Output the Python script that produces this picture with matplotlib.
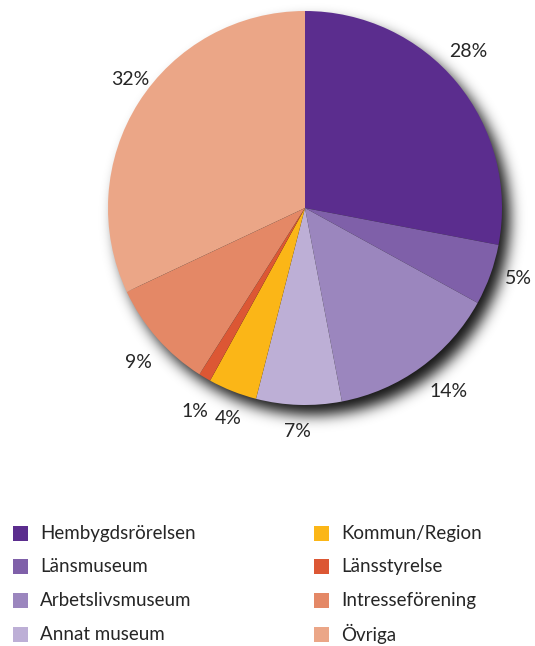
import numpy as np
import matplotlib.pyplot as plt
from matplotlib.patches import Rectangle

# Share of respondents per organisation type (%)
categories = ["Hembygdsrörelsen", "Länsmuseum", "Arbetslivsmuseum", "Annat museum",
              "Kommun/Region", "Länsstyrelse", "Intresseförening", "Övriga"]
shares = [28, 5, 14, 7, 4, 1, 9, 32]
colors = ["#5b2d8e", "#7f60a9", "#9b86be", "#bdafd6",
          "#fbb617", "#dc5734", "#e48866", "#eba687"]

plt.rcParams["font.family"] = ["Lato", "DejaVu Sans"]

W, H = 535, 646
fig = plt.figure(figsize=(W / 100, H / 100), dpi=100)
ax = fig.add_axes([0, 0, 1, 1])

cx, cy, r = 305, H - 208, 197

# soft drop shadow behind the pie
yy, xx = np.mgrid[0:H, 0:W] + 0.5
disk = (((xx - (cx + 8)) ** 2 + (yy - (cy - 10)) ** 2) <= r ** 2).astype(float)
sigma = 7
k = np.arange(-3 * sigma, 3 * sigma + 1)
kern = np.exp(-k ** 2 / (2 * sigma ** 2))
kern /= kern.sum()
blur = np.apply_along_axis(lambda v: np.convolve(v, kern, mode="same"), 0, disk)
blur = np.apply_along_axis(lambda v: np.convolve(v, kern, mode="same"), 1, blur)
shadow = np.zeros((H, W, 4))
shadow[..., 3] = 0.92 * blur
ax.imshow(shadow, extent=(0, W, 0, H), origin="lower", zorder=0, interpolation="bilinear")

wedges, _, pct_texts = ax.pie(
    shares, colors=colors, startangle=90, counterclock=False,
    center=(cx, cy), radius=r, autopct="%.0f%%", pctdistance=1.15,
    wedgeprops=dict(linewidth=0), frame=True,
)
for w in wedges:
    w.set_zorder(2)

# small hand nudges so the labels sit clear of the shadow
nudges = [(-11, 12), (0, 6), (10, 0), (0, 3), (7, 0), (5, -8), (3, -5), (17, 7)]
for t, (dx, dy) in zip(pct_texts, nudges):
    x, y = t.get_position()
    t.set_position((x + dx, y + dy))
    t.set_fontsize(14)
    t.set_color("#262626")
ax.set_xlim(0, W)
ax.set_ylim(0, H)
ax.set_aspect("auto")
ax.axis("off")

# two-column legend below the pie
for i, (name, col) in enumerate(zip(categories, colors)):
    x0 = [13, 314][i // 4]
    yc = H - (533 + 33.7 * (i % 4))
    ax.add_patch(Rectangle((x0, yc - 7.5), 15, 15, facecolor=col, edgecolor="none"))
    ax.text(x0 + 27, yc, name, fontsize=13.5, color="#262626", va="center", ha="left")

fig.savefig("out.png", dpi=100)
